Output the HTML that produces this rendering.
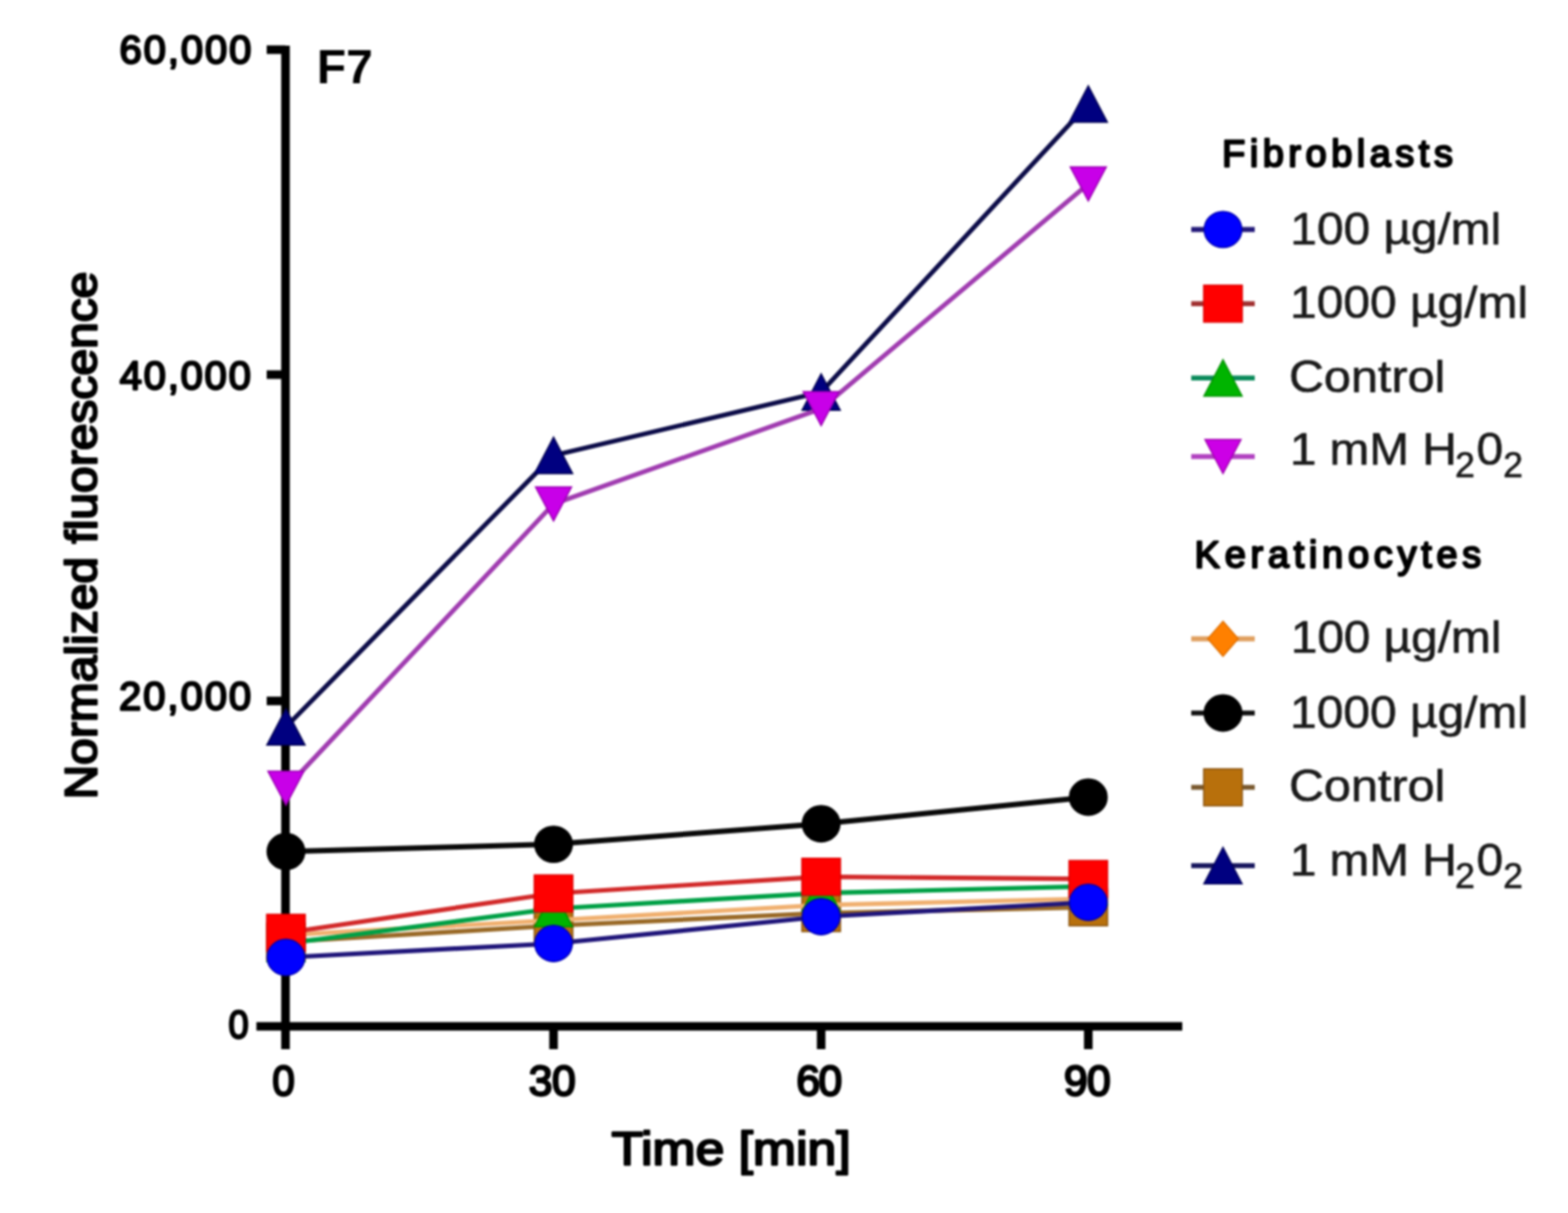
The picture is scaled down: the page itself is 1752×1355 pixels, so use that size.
<!DOCTYPE html>
<html><head><meta charset="utf-8"><title>F7 Normalized fluorescence</title>
<style>html,body{margin:0;padding:0;background:#fff;overflow:hidden;}svg{display:block;filter:blur(0.9px);} .b{fill:#000;stroke:#000;stroke-width:2.4px;stroke-linejoin:round;} .r{fill:#1a1a1a;stroke:#1a1a1a;stroke-width:0.7px;stroke-linejoin:round;} .bb{fill:#000;font-weight:bold;}</style></head>
<body><svg width="1752" height="1355" viewBox="0 0 1752 1355">
<rect width="1752" height="1355" fill="#fff"/>
<g stroke="#000" stroke-width="9.6" stroke-linecap="butt" fill="none">
<line x1="319" y1="51" x2="319" y2="1172"/>
<line x1="286.5" y1="1146.5" x2="1321" y2="1146.5"/>
<line x1="298" y1="55.5" x2="319" y2="55.5"/>
<line x1="298" y1="418.5" x2="319" y2="418.5"/>
<line x1="298" y1="783" x2="319" y2="783"/>
<line x1="618.5" y1="1146" x2="618.5" y2="1172"/>
<line x1="917.5" y1="1146" x2="917.5" y2="1172"/>
<line x1="1216.0" y1="1146" x2="1216.0" y2="1172"/>
</g>
<polyline points="319.5,812 618.5,508.7 917.5,438 1216.0,116.2" fill="none" stroke="#0c0c48" stroke-width="5.2" stroke-linejoin="round"/>
<polygon points="319.5,791.7 340.8,832.3 298.2,832.3" fill="#000080" stroke="#000050" stroke-width="1.5" stroke-linejoin="miter"/>
<polygon points="618.5,488.4 639.8,529.0 597.2,529.0" fill="#000080" stroke="#000050" stroke-width="1.5" stroke-linejoin="miter"/>
<polygon points="917.5,417.7 938.8,458.3 896.2,458.3" fill="#000080" stroke="#000050" stroke-width="1.5" stroke-linejoin="miter"/>
<polygon points="1216.0,95.9 1237.3,136.5 1194.7,136.5" fill="#000080" stroke="#000050" stroke-width="1.5" stroke-linejoin="miter"/>
<polyline points="319.5,1052 618.5,1034 917.5,1020 1216.0,1013.5" fill="none" stroke="#9a6a28" stroke-width="5.2" stroke-linejoin="round"/>
<rect x="298.0" y="1031.4" width="43.0" height="41.2" fill="#b8700c" stroke="#8a5410" stroke-width="1.5"/>
<rect x="597.0" y="1013.4" width="43.0" height="41.2" fill="#b8700c" stroke="#8a5410" stroke-width="1.5"/>
<rect x="896.0" y="999.4" width="43.0" height="41.2" fill="#b8700c" stroke="#8a5410" stroke-width="1.5"/>
<rect x="1194.5" y="992.9" width="43.0" height="41.2" fill="#b8700c" stroke="#8a5410" stroke-width="1.5"/>
<polyline points="319.5,951.3 618.5,943.1 917.5,920.2 1216.0,890.5" fill="none" stroke="#0a0a0a" stroke-width="6" stroke-linejoin="round"/>
<ellipse cx="319.5" cy="951.3" rx="21.0" ry="20.2" fill="#000000" stroke="#000000" stroke-width="1.5"/>
<ellipse cx="618.5" cy="943.1" rx="21.0" ry="20.2" fill="#000000" stroke="#000000" stroke-width="1.5"/>
<ellipse cx="917.5" cy="920.2" rx="21.0" ry="20.2" fill="#000000" stroke="#000000" stroke-width="1.5"/>
<ellipse cx="1216.0" cy="890.5" rx="21.0" ry="20.2" fill="#000000" stroke="#000000" stroke-width="1.5"/>
<polyline points="319.5,1044.5 618.5,1028 917.5,1011 1216.0,1004" fill="none" stroke="#f0b070" stroke-width="5.2" stroke-linejoin="round"/>
<polygon points="319.5,1025.0 336.5,1044.5 319.5,1064.0 302.5,1044.5" fill="#ff8000" stroke="#e07000" stroke-width="1.5"/>
<polygon points="618.5,1008.5 635.5,1028 618.5,1047.5 601.5,1028" fill="#ff8000" stroke="#e07000" stroke-width="1.5"/>
<polygon points="917.5,991.5 934.5,1011 917.5,1030.5 900.5,1011" fill="#ff8000" stroke="#e07000" stroke-width="1.5"/>
<polygon points="1216.0,984.5 1233.0,1004 1216.0,1023.5 1199.0,1004" fill="#ff8000" stroke="#e07000" stroke-width="1.5"/>
<polyline points="319.5,880.4 618.5,563 917.5,456.5 1216.0,205.5" fill="none" stroke="#a03cb0" stroke-width="5.2" stroke-linejoin="round"/>
<polygon points="299.4,861.5 339.6,861.5 319.5,899.3" fill="#c800e8" stroke="#9800b0" stroke-width="1.5"/>
<polygon points="598.4,544.1 638.6,544.1 618.5,581.9" fill="#c800e8" stroke="#9800b0" stroke-width="1.5"/>
<polygon points="897.4,437.6 937.6,437.6 917.5,475.4" fill="#c800e8" stroke="#9800b0" stroke-width="1.5"/>
<polygon points="1195.9,186.6 1236.1,186.6 1216.0,224.4" fill="#c800e8" stroke="#9800b0" stroke-width="1.5"/>
<polyline points="319.5,1054 618.5,1015 917.5,997.6 1216.0,990.2" fill="none" stroke="#00a046" stroke-width="5.2" stroke-linejoin="round"/>
<polygon points="319.5,1033.7 340.8,1074.3 298.2,1074.3" fill="#00b400" stroke="#009000" stroke-width="1.5" stroke-linejoin="miter"/>
<polygon points="618.5,994.7 639.8,1035.3 597.2,1035.3" fill="#00b400" stroke="#009000" stroke-width="1.5" stroke-linejoin="miter"/>
<polygon points="917.5,977.3000000000001 938.8,1017.9 896.2,1017.9" fill="#00b400" stroke="#009000" stroke-width="1.5" stroke-linejoin="miter"/>
<polygon points="1216.0,969.9000000000001 1237.3,1010.5 1194.7,1010.5" fill="#00b400" stroke="#009000" stroke-width="1.5" stroke-linejoin="miter"/>
<polyline points="319.5,1042 618.5,998 917.5,979.4 1216.0,981.9" fill="none" stroke="#d22a2a" stroke-width="5.2" stroke-linejoin="round"/>
<rect x="298.0" y="1021.4" width="43.0" height="41.2" fill="#ff0000" stroke="#e00000" stroke-width="1.5"/>
<rect x="597.0" y="977.4" width="43.0" height="41.2" fill="#ff0000" stroke="#e00000" stroke-width="1.5"/>
<rect x="896.0" y="958.8" width="43.0" height="41.2" fill="#ff0000" stroke="#e00000" stroke-width="1.5"/>
<rect x="1194.5" y="961.3" width="43.0" height="41.2" fill="#ff0000" stroke="#e00000" stroke-width="1.5"/>
<polyline points="319.5,1069.5 618.5,1054 917.5,1024 1216.0,1008" fill="none" stroke="#20167a" stroke-width="5.2" stroke-linejoin="round"/>
<ellipse cx="319.5" cy="1069.5" rx="21.0" ry="20.2" fill="#0000ff" stroke="#0000b0" stroke-width="1.5"/>
<ellipse cx="618.5" cy="1054" rx="21.0" ry="20.2" fill="#0000ff" stroke="#0000b0" stroke-width="1.5"/>
<ellipse cx="917.5" cy="1024" rx="21.0" ry="20.2" fill="#0000ff" stroke="#0000b0" stroke-width="1.5"/>
<ellipse cx="1216.0" cy="1008" rx="21.0" ry="20.2" fill="#0000ff" stroke="#0000b0" stroke-width="1.5"/>
<line x1="1331" y1="256.4" x2="1402" y2="256.4" stroke="#241a7a" stroke-width="5.6"/>
<ellipse cx="1366.5" cy="256.4" rx="21.0" ry="20.2" fill="#0000ff" stroke="#0000b0" stroke-width="1.5"/>
<line x1="1331" y1="339.2" x2="1402" y2="339.2" stroke="#a03030" stroke-width="5.6"/>
<rect x="1345.0" y="318.59999999999997" width="43.0" height="41.2" fill="#ff0000" stroke="#e00000" stroke-width="1.5"/>
<line x1="1331" y1="422.2" x2="1402" y2="422.2" stroke="#0a8a5a" stroke-width="5.6"/>
<polygon points="1366.5,401.9 1387.8,442.5 1345.2,442.5" fill="#00b400" stroke="#009000" stroke-width="1.5" stroke-linejoin="miter"/>
<line x1="1331" y1="510.0" x2="1402" y2="510.0" stroke="#b040c0" stroke-width="5.6"/>
<polygon points="1346.4,491.1 1386.6,491.1 1366.5,528.9" fill="#cc00e6" stroke="#a000b0" stroke-width="1.5"/>
<line x1="1331" y1="713.6" x2="1402" y2="713.6" stroke="#e0a060" stroke-width="5.6"/>
<polygon points="1366.5,694.1 1383.5,713.6 1366.5,733.1 1349.5,713.6" fill="#ff8000" stroke="#e07000" stroke-width="1.5"/>
<line x1="1331" y1="796.5" x2="1402" y2="796.5" stroke="#111111" stroke-width="5.6"/>
<ellipse cx="1366.5" cy="796.5" rx="21.0" ry="20.2" fill="#000000" stroke="#000000" stroke-width="1.5"/>
<line x1="1331" y1="879.5" x2="1402" y2="879.5" stroke="#7a5a30" stroke-width="5.6"/>
<rect x="1345.0" y="858.9" width="43.0" height="41.2" fill="#b8700c" stroke="#8a5410" stroke-width="1.5"/>
<line x1="1331" y1="967.0" x2="1402" y2="967.0" stroke="#15145c" stroke-width="5.6"/>
<polygon points="1366.5,946.7 1387.8,987.3 1345.2,987.3" fill="#000080" stroke="#00005a" stroke-width="1.5" stroke-linejoin="miter"/>
<g font-family="Liberation Sans, Arial, Helvetica, sans-serif">
<text x="133.56" y="71.30" font-size="44.69" class="b" textLength="147.34" lengthAdjust="spacing">60,000</text>
<text x="133.70" y="435.00" font-size="44.69" class="b" textLength="146.62" lengthAdjust="spacing">40,000</text>
<text x="132.89" y="793.00" font-size="44.69" class="b" textLength="147.72" lengthAdjust="spacing">20,000</text>
<text x="255.27" y="1160.00" font-size="44.69" class="b" textLength="22.59" lengthAdjust="spacingAndGlyphs">0</text>
<text x="304.28" y="1223.50" font-size="47.75" class="b" textLength="25.15" lengthAdjust="spacingAndGlyphs">0</text>
<text x="590.70" y="1223.50" font-size="47.75" class="b" textLength="52.72" lengthAdjust="spacing">30</text>
<text x="889.73" y="1223.50" font-size="47.75" class="b" textLength="51.38" lengthAdjust="spacing">60</text>
<text x="1188.78" y="1223.50" font-size="47.75" class="b" textLength="52.17" lengthAdjust="spacing">90</text>
<text x="354.12" y="92.80" font-size="53.60" class="bb">F7</text>
<text x="683.16" y="1301.00" font-size="51.86" class="b" textLength="267.28" lengthAdjust="spacingAndGlyphs">Time [min]</text>
<text x="1365.51" y="185.60" font-size="42.34" class="b" textLength="257.88" lengthAdjust="spacing">Fibroblasts</text>
<text x="1334.84" y="634.00" font-size="42.34" class="b" textLength="320.19" lengthAdjust="spacing">Keratinocytes</text>
<text x="1441.70" y="272.50" font-size="50.77" class="r" textLength="235.81" lengthAdjust="spacingAndGlyphs">100 µg/ml</text>
<text x="1441.55" y="355.30" font-size="50.77" class="r" textLength="265.81" lengthAdjust="spacingAndGlyphs">1000 µg/ml</text>
<text x="1440.22" y="437.80" font-size="50.77" class="r" textLength="174.61" lengthAdjust="spacingAndGlyphs">Control</text>
<text x="1442.27" y="729.10" font-size="50.77" class="r" textLength="235.26" lengthAdjust="spacingAndGlyphs">100 µg/ml</text>
<text x="1441.59" y="812.50" font-size="50.77" class="r" textLength="265.75" lengthAdjust="spacingAndGlyphs">1000 µg/ml</text>
<text x="1440.19" y="894.60" font-size="50.77" class="r" textLength="174.70" lengthAdjust="spacingAndGlyphs">Control</text>
<text class="b" transform="translate(108,893.1) rotate(-90)" font-size="50.8" textLength="589.7" lengthAdjust="spacingAndGlyphs">Normalized fluorescence</text>
<text class="r" font-size="50.82"><tspan x="1441.18" y="519.3" textLength="186.43" lengthAdjust="spacingAndGlyphs">1 mM H</tspan><tspan x="1625.82" y="532.5" font-size="40.0">2</tspan><tspan x="1649.88" y="519.3" textLength="29.78" lengthAdjust="spacingAndGlyphs">0</tspan><tspan x="1679.41" y="532.5" font-size="40.0">2</tspan></text>
<text class="r" font-size="50.82"><tspan x="1441.18" y="978.4" textLength="186.43" lengthAdjust="spacingAndGlyphs">1 mM H</tspan><tspan x="1625.82" y="991.6" font-size="40.0">2</tspan><tspan x="1649.88" y="978.4" textLength="29.78" lengthAdjust="spacingAndGlyphs">0</tspan><tspan x="1679.41" y="991.6" font-size="40.0">2</tspan></text>
</g>
</svg></body></html>
